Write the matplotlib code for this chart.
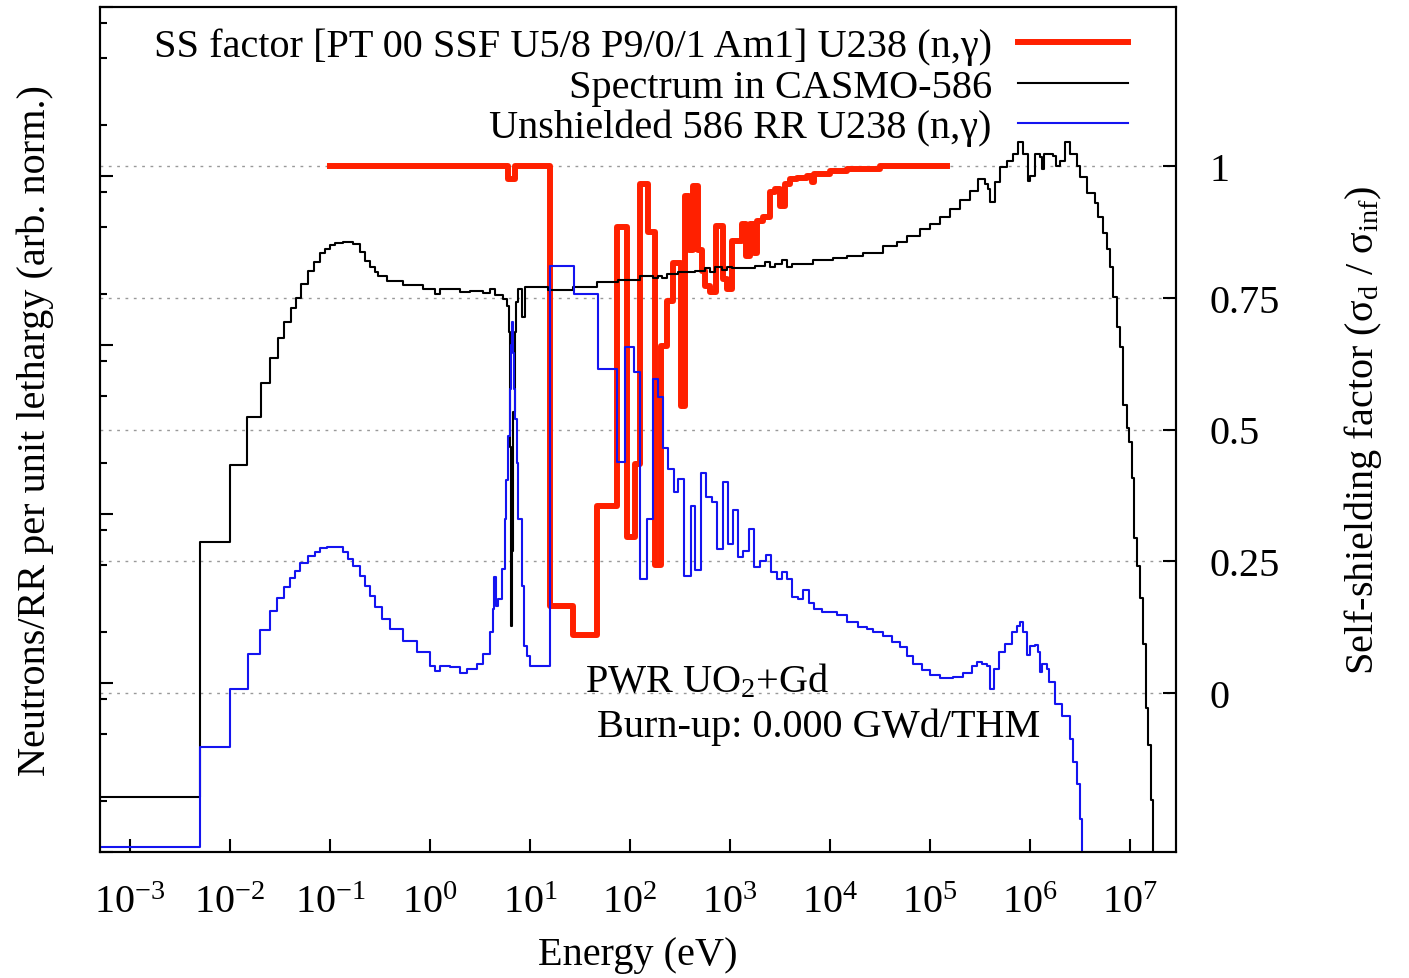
import numpy as np
import matplotlib
matplotlib.use('Agg')
import matplotlib.pyplot as plt
from matplotlib.ticker import LogLocator, NullLocator

plt.rcParams['font.family'] = 'Liberation Serif'
plt.rcParams['mathtext.fontset'] = 'custom'
plt.rcParams['mathtext.rm'] = 'Liberation Serif'
plt.rcParams['mathtext.it'] = 'Liberation Serif:italic'
plt.rcParams['font.size'] = 29

# neutron spectrum in CASMO-586 groups (lower group energy in eV, flux per lethargy)
spec_e = [5.0e-4, 0.005, 0.01, 0.0148, 0.0204, 0.0251, 0.0302, 0.0347, 0.0407, 0.0457,
          0.0513, 0.0603, 0.0692, 0.0794, 0.0891, 0.100, 0.112, 0.135, 0.170, 0.200,
          0.224, 0.251, 0.282, 0.302, 0.372, 0.537, 0.851, 1.12, 1.26, 2.00,
          2.51, 3.39, 3.98, 4.47, 5.37, 5.89, 6.10, 6.31, 6.46, 6.61,
          6.76, 7.00, 7.24, 7.59, 8.32, 8.91, 15.1, 26.9, 46.8, 75.9,
          126, 170, 191, 209, 234, 302, 447, 562, 631, 708,
          832, 933, 1047, 1778, 2239, 2512, 2818, 3311, 3715, 4169,
          6761, 1.07e4, 1.48e4, 2.14e4, 3.39e4, 4.68e4, 5.89e4, 7.94e4, 1.0e5, 1.26e5,
          1.58e5, 2.0e5, 2.51e5, 3.02e5, 3.55e5, 3.80e5, 3.98e5, 4.47e5, 5.01e5, 5.89e5,
          6.76e5, 7.59e5, 8.51e5, 9.55e5, 1.0e6, 1.12e6, 1.26e6, 1.32e6, 1.38e6, 1.70e6,
          1.82e6, 2.0e6, 2.24e6, 2.51e6, 2.95e6, 3.16e6, 3.72e6, 4.47e6, 4.79e6, 5.37e6,
          5.89e6, 6.31e6, 6.76e6, 7.41e6, 7.94e6, 8.51e6, 9.33e6, 9.77e6, 1.05e7, 1.10e7,
          1.17e7, 1.26e7, 1.35e7, 1.45e7, 1.51e7, 1.62e7, 1.70e7]
spec_v = [2.11e-3, 0.068, 0.195, 0.375, 0.596, 0.838, 1.10, 1.37, 1.66, 1.90,
          2.30, 2.74, 3.10, 3.50, 3.70, 3.91, 4.02, 4.07, 3.96, 3.55,
          3.14, 2.90, 2.70, 2.56, 2.39, 2.26, 2.14, 2.00, 2.14, 2.06,
          2.09, 2.03, 2.14, 1.98, 1.87, 1.70, 1.20, 0.25, 0.0217, 0.06,
          0.40, 1.20, 1.80, 2.14, 1.46, 2.20, 2.11, 2.20, 2.35, 2.44,
          2.56, 2.50, 2.56, 2.50, 2.62, 2.69, 2.74, 2.86, 2.69, 2.90,
          2.78, 2.90, 2.86, 2.93, 3.10, 2.90, 3.02, 3.17, 2.90, 3.02,
          3.17, 3.26, 3.36, 3.50, 3.84, 4.07, 4.42, 4.86, 5.20, 5.72,
          6.36, 7.20, 8.14, 9.58, 8.97, 8.38, 7.02, 9.21, 11.3, 12.3,
          13.5, 15.9, 13.5, 9.34, 10.0, 13.5, 12.9, 11.0, 13.5, 13.1,
          11.5, 12.3, 15.9, 13.5, 11.5, 9.86, 7.93, 6.92, 5.72, 4.60,
          3.70, 2.90, 1.92, 1.28, 0.973, 0.442, 0.323, 0.267, 0.163, 0.0721,
          0.0492, 0.0318, 0.0170, 0.00711, 0.0043, 0.00203, 5.0e-4]

# unshielded U238 (n,gamma) reaction rate
rr_e = [5.0e-4, 0.005, 0.01, 0.0151, 0.020, 0.0251, 0.0295, 0.0347, 0.0398, 0.0447,
        0.0501, 0.0603, 0.0708, 0.0794, 0.0933, 0.135, 0.151, 0.170, 0.200, 0.224,
        0.251, 0.282, 0.331, 0.398, 0.537, 0.741, 1.00, 1.12, 1.26, 1.58,
        2.00, 2.34, 2.95, 3.39, 3.98, 4.27, 4.37, 4.57, 4.79, 5.25,
        5.62, 5.82, 6.03, 6.24, 6.46, 6.61, 6.76, 6.92, 7.08, 7.33,
        7.59, 8.32, 8.71, 9.33, 10.0, 15.8, 27.5, 47.9, 74.1, 89.1,
        110, 126, 148, 170, 191, 214, 240, 275, 302, 347,
        407, 447, 513, 575, 661, 741, 851, 955, 1072, 1202,
        1349, 1549, 1738, 1995, 2291, 2570, 2951, 3311, 3715, 4169,
        4786, 5370, 6166, 6918, 8318, 1.17e4, 1.48e4, 1.91e4, 2.34e4, 2.69e4,
        3.39e4, 4.17e4, 5.01e4, 5.89e4, 6.76e4, 8.32e4, 1.0e5, 1.26e5, 1.70e5, 2.14e5,
        2.63e5, 2.95e5, 3.31e5, 3.72e5, 3.98e5, 4.37e5, 4.90e5, 5.62e5, 6.61e5, 7.41e5,
        7.94e5, 8.51e5, 9.33e5, 1.0e6, 1.12e6, 1.20e6, 1.26e6, 1.32e6, 1.48e6, 1.55e6,
        1.78e6, 2.09e6, 2.51e6, 2.69e6, 2.95e6, 3.16e6, 3.31e6]
rr_v = [1.07e-3, 4.18e-3, 9.2e-3, 0.0149, 0.0206, 0.0267, 0.0318, 0.0370, 0.0418, 0.0460,
        0.0513, 0.0564, 0.0596, 0.0629, 0.0638, 0.0596, 0.0542, 0.0492, 0.0430, 0.0375,
        0.0327, 0.0282, 0.0239, 0.0209, 0.0177, 0.0153, 0.0126, 0.0118, 0.0126, 0.0124,
        0.0115, 0.0121, 0.0130, 0.0149, 0.0200, 0.0274, 0.0424, 0.0286, 0.0314, 0.0473,
        0.0934, 0.16, 0.290, 0.55, 1.00, 1.37, 0.90, 0.55, 0.365, 0.20,
        0.0934, 0.0375, 0.0166, 0.0145, 0.0126, 2.93, 2.00, 0.721, 0.203, 0.973,
        0.692, 0.0412, 0.0934, 0.629, 0.492, 0.246, 0.185, 0.135, 0.161, 0.0430,
        0.111, 0.0466, 0.175, 0.126, 0.118, 0.0621, 0.155, 0.0664, 0.106, 0.0557,
        0.0604, 0.0815, 0.0486, 0.0527, 0.0572, 0.0454, 0.0412, 0.0454, 0.0412, 0.0323,
        0.0314, 0.0355, 0.0297, 0.0274, 0.0263, 0.0253, 0.0230, 0.0214, 0.0209, 0.0200,
        0.0190, 0.0175, 0.0163, 0.0145, 0.0130, 0.0119, 0.0111, 0.0107, 0.0109, 0.0115,
        0.0126, 0.0133, 0.0130, 0.0126, 0.0092, 0.0121, 0.0153, 0.0170, 0.0200, 0.0217,
        0.0230, 0.0200, 0.0147, 0.0166, 0.0168, 0.0153, 0.0116, 0.0130, 0.0121, 0.0101,
        0.0075, 0.00638, 0.00466, 0.00341, 0.00253, 0.00157, 5.0e-4]

# self-shielding factor sigma_d / sigma_inf
ssf_e = [0.1, 6.03, 7.08, 15.8, 26.9, 46.8, 74.1, 93.3, 112, 126,
         151, 178, 204, 234, 269, 324, 355, 389, 427, 479,
         525, 562, 631, 724, 851, 933, 1047, 1318, 1445, 1585,
         1738, 1862, 2138, 2512, 2818, 3162, 3548, 3981, 4677, 5888,
         6607, 6918, 1.0e4, 1.48e4, 3.16e4, 1.48e5]
ssf_v = [1.0, 0.975, 1.0, 0.165, 0.110, 0.355, 0.884, 0.295, 0.435, 0.966,
         0.874, 0.242, 0.659, 0.744, 0.817, 0.545, 0.943, 0.84, 0.962, 0.84,
         0.80, 0.772, 0.761, 0.886, 0.786, 0.767, 0.858, 0.89, 0.83, 0.89,
         0.835, 0.896, 0.903, 0.951, 0.956, 0.924, 0.966, 0.975, 0.978, 0.981,
         0.97, 0.985, 0.99, 0.995, 1.0, 1.0]

ssf_ticks = [0, 0.25, 0.5, 0.75, 1]
ssf_ticklabels = ['0', '0.25', '0.5', '0.75', '1']

fig = plt.figure(figsize=(14.09, 9.79), dpi=100)
ax = fig.add_axes([100/1409, 126/979, 1076/1409, 845/979])
ax2 = ax.twinx()
# spectrum axes on top so black/blue lines sit over the red SSF curve
ax.set_zorder(ax2.get_zorder() + 1)
ax.patch.set_visible(False)

l_ssf, = ax2.step(ssf_e, ssf_v, where='post', color='#ff2000', lw=4.3)
l_spec, = ax.step(spec_e, spec_v, where='post', color='black', lw=1.5)
l_rr, = ax.step(rr_e, rr_v, where='post', color='#1414f0', lw=1.5)

ax.set_xscale('log')
ax.set_yscale('log')
ax.set_xlim(10**-3.3, 10**7.46)
ax.set_ylim(1e-3, 1e2)
ax2.set_ylim(-0.302, 1.302)

ax.set_xticks(10.0 ** np.arange(-3, 8))
ax.xaxis.set_minor_locator(NullLocator())
ax.yaxis.set_major_locator(LogLocator(base=10, numticks=10))
ax.yaxis.set_minor_locator(LogLocator(base=10, subs=(2, 5, 8), numticks=10))

ax.tick_params(axis='x', which='major', direction='in', length=9.5, width=1.5,
               pad=23, labelsize=29, top=False)
ax.tick_params(axis='y', which='both', direction='in', width=1.5,
               labelleft=False, right=False)
ax.tick_params(axis='y', which='major', length=9.5)
ax.tick_params(axis='y', which='minor', length=5)

ax2.set_yticks(ssf_ticks, ssf_ticklabels)
ax2.tick_params(axis='y', direction='in', length=9.5, width=1.5, pad=24, labelsize=29)
ax2.grid(True, axis='y', color='#999999', linestyle=(0, (2, 4)), linewidth=1.0)

for a in (ax, ax2):
    for s in a.spines.values():
        s.set_linewidth(1.5)

ax.set_xlabel('Energy (eV)', va='center')
ax.xaxis.set_label_coords(0.5, -0.121)
ax.set_ylabel('Neutrons/RR per unit lethargy (arb. norm.)', va='center')
ax.yaxis.set_label_coords(-0.0604, 0.5)
ax2.set_ylabel('Self-shielding factor (σ$_\\mathrm{d}$ / σ$_\\mathrm{inf}$)', va='center')
ax2.yaxis.set_label_coords(1.174, 0.5)

ax.text(0.4507, 0.1905, 'PWR UO$_2$+Gd', transform=ax.transAxes, ha='left', va='baseline')
ax.text(0.4619, 0.1373, 'Burn-up: 0.000 GWd/THM', transform=ax.transAxes,
        ha='left', va='baseline')

ax.legend([l_ssf, l_spec, l_rr],
          ['SS factor [PT 00 SSF U5/8 P9/0/1 Am1] U238 (n,γ)',
           'Spectrum in CASMO-586',
           'Unshielded 586 RR U238 (n,γ)'],
          loc='upper right', bbox_to_anchor=(0.9554, 0.9755), markerfirst=False,
          frameon=False, handlelength=2.73, handletextpad=0.65, labelspacing=0.08,
          borderpad=0, borderaxespad=0, fontsize=29)

fig.savefig('out.png', dpi=100)
